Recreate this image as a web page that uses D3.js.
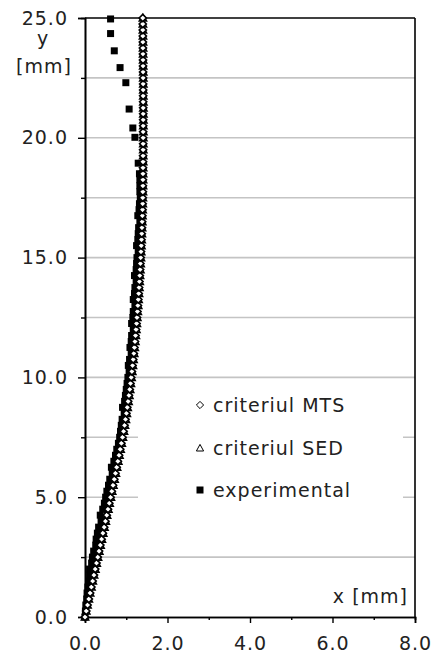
<!DOCTYPE html>
<html><head><meta charset="utf-8">
<script src="https://cdn.jsdelivr.net/npm/d3@7"></script>
<style>
html,body{margin:0;padding:0;background:#fff;}
svg{display:block;font-family:"DejaVu Sans",Verdana,sans-serif;}
svg text{letter-spacing:1px;}
</style></head>
<body><svg id="c" width="436" height="660"></svg>
<script>
// ---- data ----
const yTheory = [0,0.25,0.5,0.75,1,1.25,1.5,1.75,2,2.25,
2.5,2.75,3,3.25,3.5,3.75,4,4.25,4.5,4.75,
5,5.25,5.5,5.75,6,6.25,6.5,6.75,7,7.25,
7.5,7.75,8,8.25,8.5,8.75,9,9.25,9.5,9.75,
10,10.25,10.5,10.75,11,11.25,11.5,11.75,12,12.25,
12.5,12.75,13,13.25,13.5,13.75,14,14.25,14.5,14.75,
15,15.25,15.5,15.75,16,16.25,16.5,16.75,17,17.25,
17.5,17.75,18,18.25,18.5,18.75,19,19.25,19.5,19.75,
20,20.25,20.5,20.75,21,21.25,21.5,21.75,22,22.25,
22.5,22.75,23,23.25,23.5,23.75,24,24.25,24.5,24.75,
25];
const xMTS = [0.000,0.031,0.062,0.093,0.124,0.155,0.186,0.217,0.248,0.279,
0.310,0.341,0.372,0.403,0.434,0.465,0.496,0.527,0.558,0.589,
0.620,0.650,0.680,0.710,0.739,0.768,0.797,0.826,0.854,0.882,
0.910,0.935,0.959,0.982,1.004,1.025,1.046,1.066,1.085,1.103,
1.120,1.137,1.153,1.169,1.184,1.198,1.212,1.225,1.238,1.250,
1.260,1.271,1.282,1.292,1.302,1.311,1.320,1.328,1.336,1.343,
1.350,1.357,1.364,1.370,1.376,1.381,1.386,1.391,1.395,1.398,
1.400,1.402,1.403,1.404,1.405,1.406,1.407,1.408,1.409,1.410,
1.410,1.410,1.411,1.411,1.411,1.411,1.410,1.410,1.410,1.410,
1.409,1.408,1.407,1.406,1.405,1.404,1.403,1.402,1.401,1.400,
1.400];
const xSED = [0.000,0.030,0.061,0.092,0.124,0.156,0.188,0.219,0.251,0.283,
0.314,0.346,0.378,0.409,0.441,0.472,0.504,0.535,0.566,0.597,
0.628,0.658,0.688,0.718,0.748,0.777,0.806,0.835,0.863,0.891,
0.918,0.944,0.968,0.991,1.013,1.034,1.055,1.075,1.094,1.112,
1.129,1.146,1.162,1.177,1.192,1.206,1.220,1.233,1.245,1.257,
1.268,1.279,1.289,1.299,1.309,1.318,1.326,1.334,1.342,1.349,
1.356,1.362,1.368,1.374,1.379,1.384,1.389,1.393,1.397,1.400,
1.403,1.405,1.407,1.408,1.409,1.410,1.411,1.412,1.413,1.414,
1.414,1.415,1.415,1.415,1.415,1.415,1.415,1.414,1.414,1.414,
1.413,1.412,1.411,1.410,1.409,1.408,1.407,1.406,1.405,1.404,
1.404];
const yExp = [0,0.25,0.5,0.75,1,1.25,1.5,1.75,2,2.25,
2.5,2.75,3,3.25,3.5,3.75,4,4.25,4.5,4.75,
5,5.25,5.5,5.75,6,6.25,6.5,6.75,7,7.25,
7.5,7.75,8,8.25,8.5,8.75,9,9.25,9.5,9.75,
10,10.25,10.5,10.75,11,11.25,11.5,11.75,12,12.25,
12.5,12.75,13,13.25,13.5,13.75,14,14.25,14.5,14.75,
15,15.25,15.5,15.75,16,16.25,16.5,16.75,17,17.25,
17.5,17.75,18,18.25,18.5,
18.94,20.02,20.41,21.20,22.30,22.93,23.63,24.35,24.96];
const xExp = [0.00,0.01,0.02,0.04,0.05,0.07,0.09,0.11,0.11,0.16,
0.18,0.21,0.26,0.27,0.30,0.33,0.39,0.37,0.43,0.47,
0.50,0.53,0.57,0.60,0.66,0.64,0.70,0.74,0.77,0.81,
0.84,0.86,0.88,0.90,0.95,0.91,0.96,0.98,1.00,1.02,
1.04,1.07,1.05,1.08,1.12,1.09,1.12,1.13,1.17,1.13,
1.16,1.17,1.21,1.17,1.20,1.21,1.24,1.20,1.24,1.25,
1.26,1.29,1.25,1.28,1.29,1.30,1.33,1.28,1.31,1.32,
1.34,1.33,1.33,1.33,1.32,
1.29,1.21,1.16,1.07,0.99,0.85,0.71,0.62,0.62];

const seriesNames = ["criteriul MTS","criteriul SED","experimental"];
const xTickValues = [0,2,4,6,8];
const xTickLabels = ["0.0","2.0","4.0","6.0","8.0"];
const xMinorTicks = [1,3,5,7];
const yTickValues = [0,5,10,15,20,25];
const yTickLabels = ["0.0","5.0","10.0","15.0","20.0","25.0"];
const yMinorTicks = [2.5,7.5,12.5,17.5,22.5];
const gridValues = [2.5,5,7.5,10,12.5,15,17.5,20,22.5];
const xAxisTitle = "x [mm]";
const yAxisTitle = ["y","[mm]"];

// ---- drawing ----
const svg = d3.select("#c");
const FS = 19;
const x = d3.scaleLinear().domain([0,8]).range([85,415]);
const y = d3.scaleLinear().domain([0,25]).range([617,18]);

// gridlines
svg.append("g").selectAll("line").data(gridValues).join("line")
  .attr("x1", x(0)).attr("x2", x(8))
  .attr("y1", d=>y(d)).attr("y2", d=>y(d))
  .attr("stroke","#c4c4c4").attr("stroke-width",1.6);

// legend background (covers gridlines)
const legend = svg.append("g");
legend.append("rect").attr("x",138).attr("y",385).attr("width",265).attr("height",128).attr("fill","#fff");

// frame top/right
svg.append("line").attr("x1",x(0)).attr("x2",x(8)).attr("y1",y(25)).attr("y2",y(25)).attr("stroke","#000").attr("stroke-width",1.6);
svg.append("line").attr("x1",x(8)).attr("x2",x(8)).attr("y1",y(0)).attr("y2",y(25)).attr("stroke","#000").attr("stroke-width",1.6);

// axes
const xAxis = d3.axisBottom(x).tickValues(xTickValues).tickSize(6).tickPadding(14)
  .tickFormat((d,i)=>xTickLabels[i]);
const gx = svg.append("g").attr("transform",`translate(0,${y(0)})`).call(xAxis);
const gxm = svg.append("g").attr("transform",`translate(0,${y(0)})`)
  .call(d3.axisBottom(x).tickValues(xMinorTicks).tickSize(3).tickFormat(""));
const yAxis = d3.axisLeft(y).tickValues(yTickValues).tickSize(7).tickPadding(10)
  .tickFormat((d,i)=>yTickLabels[i]);
const gy = svg.append("g").attr("transform",`translate(${x(0)},0)`).call(yAxis);
const gym = svg.append("g").attr("transform",`translate(${x(0)},0)`)
  .call(d3.axisLeft(y).tickValues(yMinorTicks).tickSize(4).tickFormat(""));
[gx,gxm,gy,gym].forEach(g=>{
  g.select(".domain").attr("stroke","#000").attr("stroke-width",1.6);
  g.selectAll(".tick line").attr("stroke","#000").attr("stroke-width",1.4);
  g.selectAll("text").attr("font-size",FS).attr("fill","#222").attr("font-family","DejaVu Sans");
});
gx.selectAll(".tick text").attr("dy","0.71em");

// axis titles
svg.append("text").attr("x",43).attr("y",45).attr("text-anchor","middle")
  .attr("font-size",FS).attr("fill","#222").text(yAxisTitle[0]);
svg.append("text").attr("x",44).attr("y",73).attr("text-anchor","middle")
  .attr("font-size",FS).attr("fill","#222").text(yAxisTitle[1]);
svg.append("text").attr("x",408).attr("y",603).attr("text-anchor","end")
  .attr("font-size",FS).attr("fill","#222").text(xAxisTitle);

// symbol shapes
const symSq = "M-3.5,-3.5H3.5V3.5H-3.5Z";
const symTri = "M0,-3.6L3.6,3L-3.6,3Z";
const symDia = "M0,-3.6L3.6,0L0,3.6L-3.6,0Z";

// data
const expPts = yExp.map((v,i)=>[xExp[i],v]);
const mtsPts = yTheory.map((v,i)=>[xMTS[i],v]);
const sedPts = yTheory.map((v,i)=>[xSED[i],v]);

svg.append("g").selectAll("path").data(expPts).join("path")
  .attr("d",symSq).attr("transform",d=>`translate(${x(d[0])},${y(d[1])})`)
  .attr("fill","#000");
svg.append("g").selectAll("path").data(sedPts).join("path")
  .attr("d",symTri).attr("transform",d=>`translate(${x(d[0])},${y(d[1])})`)
  .attr("fill","#fff").attr("stroke","#000").attr("stroke-width",1.6);
svg.append("g").selectAll("path").data(mtsPts).join("path")
  .attr("d",symDia).attr("transform",d=>`translate(${x(d[0])},${y(d[1])})`)
  .attr("fill","#fff").attr("stroke","#000").attr("stroke-width",1.6);

// legend
const legSyms = [symDia, symTri, symSq];
const legRows = [405,448,490];
seriesNames.forEach((name,i)=>{
  const p = legend.append("path").attr("d",legSyms[i]).attr("transform",`translate(200,${legRows[i]})`);
  if(i<2) p.attr("fill","#fff").attr("stroke","#000").attr("stroke-width",1);
  else p.attr("fill","#000");
  legend.append("text").attr("x",213).attr("y",legRows[i]).attr("dy","0.35em")
    .attr("font-size",FS).attr("fill","#222").text(name);
});
</script></body></html>
